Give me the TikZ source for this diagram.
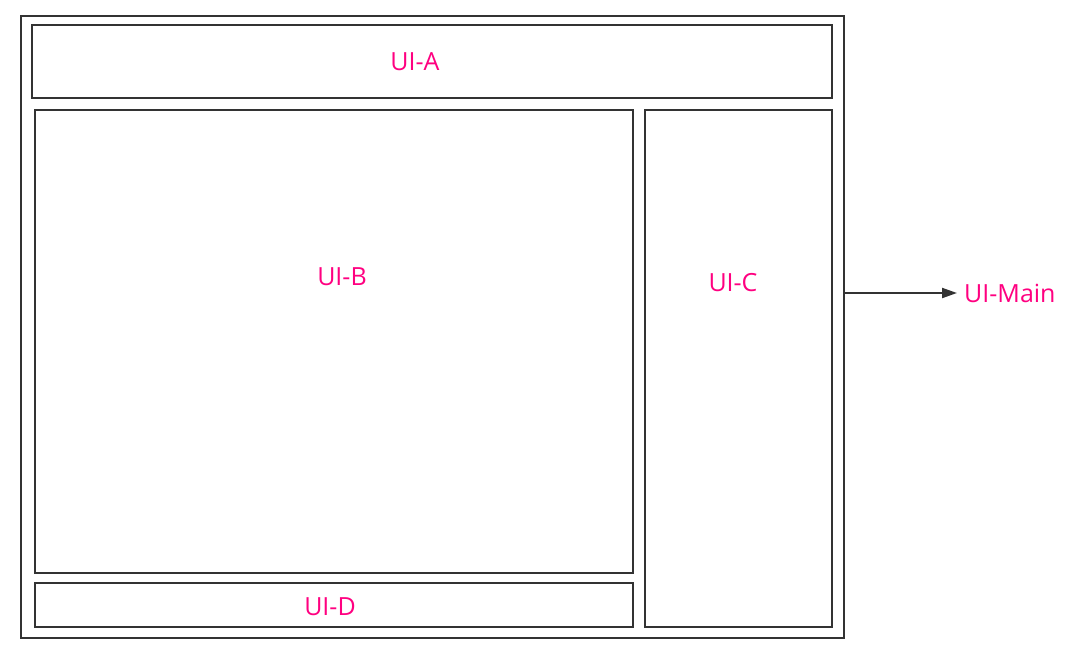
\documentclass[tikz,border=0pt]{standalone}
\usepackage{fontspec}
\setmainfont{Open Sans}
\usetikzlibrary{arrows.meta}
\definecolor{lbl}{HTML}{FF0080}
\definecolor{ln}{HTML}{333333}
\tikzset{
  box/.style={draw=ln, line width=2pt},
  lab/.style={text=lbl, font=\fontsize{25}{30}\selectfont, inner sep=0pt},
}
\begin{document}
\begin{tikzpicture}[x=1pt,y=-1pt]
\useasboundingbox (0,0) rectangle (1075,667);
\draw[box] (21,16) rectangle (844,638);
\coordinate (outerE) at (844,293);
\draw[box] (32,25) rectangle (832,98);
\draw[box] (35,110) rectangle (633,573);
\draw[box] (645,110) rectangle (832,627);
\draw[box] (35,583) rectangle (633,627);
\node[lab] (a) at (415,62) {UI-A};
\node[lab] (b) at (342,277) {UI-B};
\node[lab] (c) at (733,283) {UI-C};
\node[lab] (d) at (330,607) {UI-D};
\node[lab, anchor=west] (m) at (964,293) {UI-Main};
\draw[draw=ln, line width=2pt, -{Triangle[length=15pt,width=10pt]}] (outerE) -- ([xshift=-7pt]m.west);
\end{tikzpicture}
\end{document}
